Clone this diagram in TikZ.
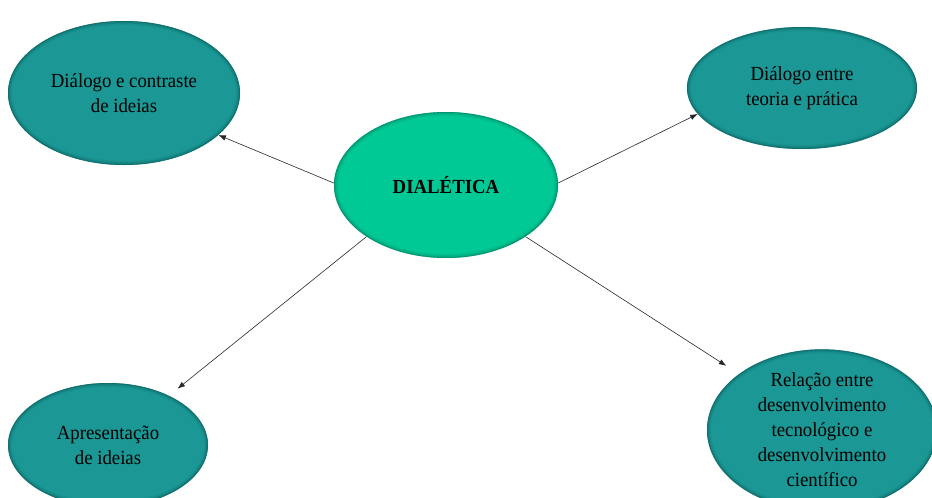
\documentclass[tikz,border=0pt]{standalone}
\usepackage{fontspec}
\setmainfont{Liberation Serif}[FakeStretch=0.94]
\usetikzlibrary{shapes.geometric,arrows.meta,calc}

\definecolor{tealfill}{RGB}{27,152,149}
\definecolor{tealrim}{RGB}{8,88,90}
\definecolor{corefill}{RGB}{0,201,150}
\definecolor{corerim}{RGB}{0,120,92}
\definecolor{linkgray}{RGB}{40,40,40}

\tikzset{
  % soft darker rim painted just inside the ellipse outline
  softrim/.style={path picture={
    \foreach \w/\o in {8/0.12, 5/0.18, 2.5/0.28, 1/0.4}
      \draw[draw=#1, line width=\w pt, opacity=\o]
        let \p1=(path picture bounding box.north east),
            \p2=(path picture bounding box.center) in
        (\p2) ellipse [x radius={\x1-\x2}, y radius={\y1-\y2}];
  }},
  idea/.style={ellipse, fill=tealfill, softrim=tealrim,
    inner sep=0pt, align=center, text=black,
    font=\fontsize{20}{25}\selectfont},
  core/.style={ellipse, fill=corefill, softrim=corerim,
    inner sep=0pt, align=center, text=black,
    font=\fontsize{20}{25}\selectfont\bfseries},
  link/.style={draw=linkgray, line width=0.6pt,
    -{Latex[length=7.5pt,width=5.5pt]}}
}

\begin{document}
\begin{tikzpicture}[x=1pt,y=-1pt]
  \fill[white] (0,0) rectangle (932,498);
  \useasboundingbox (0,0) rectangle (932,498);

  \begin{scope}
    \clip (0,0) rectangle (932,498);
    \node[core, minimum width=224pt, minimum height=146pt] (c) at (446,185) {DIALÉTICA};
    \node[idea, minimum width=232pt, minimum height=144pt] (tl) at (124,93)
      {Diálogo e contraste\\de ideias};
    \node[idea, minimum width=230pt, minimum height=122pt] (tr) at (802,88)
      {Diálogo entre\\teoria e prática};
    \node[idea, minimum width=200pt, minimum height=124pt] (bl) at (108,445)
      {Apresentação\\de ideias};
    \node[idea, minimum width=230pt, minimum height=156pt] (br) at (822,430)
      {Relação entre\\desenvolvimento\\tecnológico e\\desenvolvimento\\científico};
  \end{scope}

  \draw[link] (c.179) -- (tl.-24);
  \draw[link] (c.1) -- (tr.194);
  \draw[link, shorten >=11pt] (c.213.7) -- (bl.39.6);
  \draw[link, shorten >=15pt] (c.-33.4) -- (br.146);
\end{tikzpicture}
\end{document}
